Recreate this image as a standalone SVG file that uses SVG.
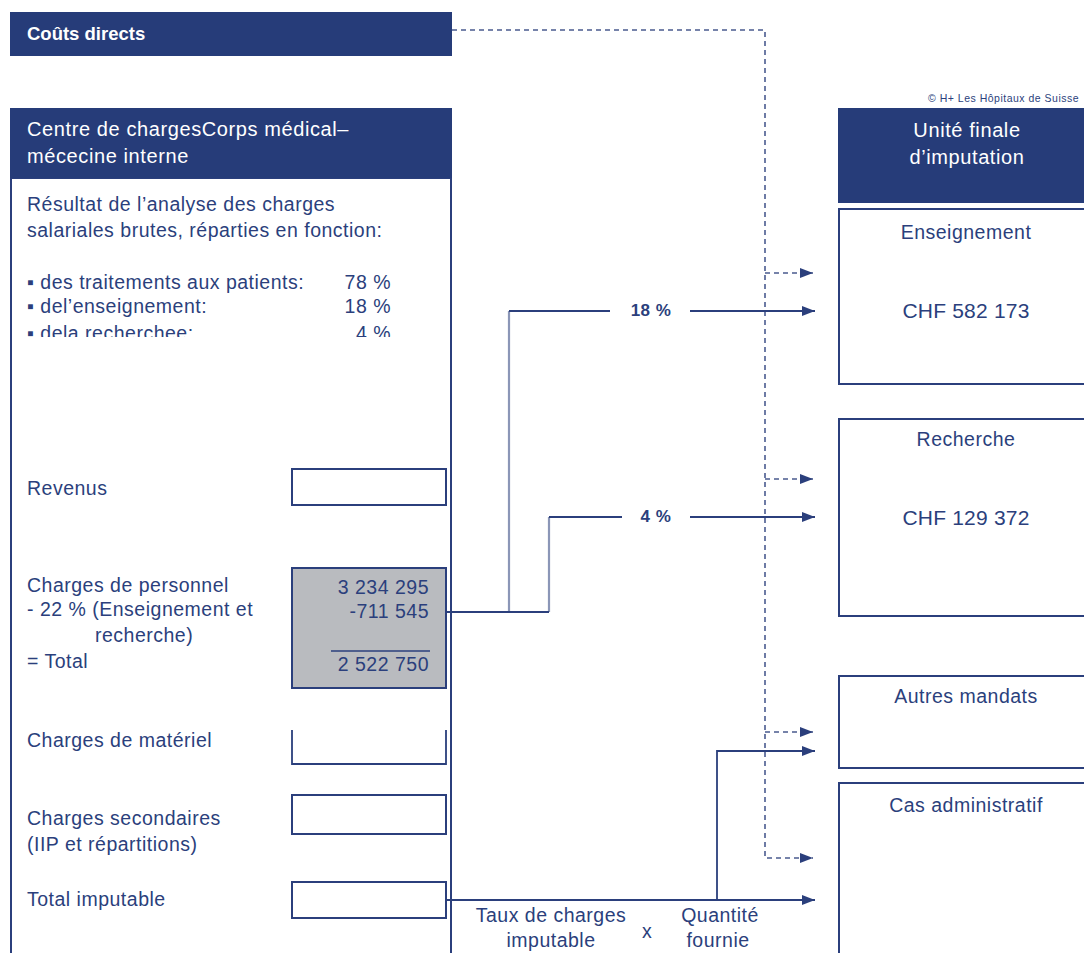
<svg xmlns="http://www.w3.org/2000/svg" width="1084" height="953" viewBox="0 0 1084 953">
<defs>
<style>
.t{font-family:"Liberation Sans",Arial,sans-serif;font-size:19.5px;letter-spacing:0.5px;fill:#2b3f7c}
.w{font-family:"Liberation Sans",Arial,sans-serif;font-size:20px;letter-spacing:0.6px;fill:#ffffff}
.hd{fill:#263c79}
.box{fill:#ffffff;stroke:#2b3f7c;stroke-width:2}
.ln{fill:none;stroke:#2b3f7c;stroke-width:1.8}
.vl{fill:none;stroke:#2b3f7c;stroke-width:2.2;stroke-opacity:0.55}
.ds{fill:none;stroke:#4a5b8f;stroke-width:1.6;stroke-dasharray:5 4}
.r{text-anchor:end}
.m{text-anchor:middle}
</style>
<marker id="ah" markerWidth="13" markerHeight="10" refX="13" refY="5" orient="auto" markerUnits="userSpaceOnUse">
<path d="M0,0 L13,5 L0,10 z" fill="#2b3f7c"/>
</marker>
<clipPath id="clip3"><rect x="0" y="0" width="460" height="337"/></clipPath>
</defs>

<g id="couts-directs">
<rect class="hd" x="10" y="12" width="442" height="44"/>
<text class="w" x="27" y="40" style="font-weight:bold;font-size:18.5px;letter-spacing:0">Coûts directs</text>
</g>

<g id="centre-charges">
<rect class="box" x="11" y="178" width="440" height="790"/>
<rect class="hd" x="10" y="108" width="442" height="70"/>
<text class="w" x="27" y="136">Centre de chargesCorps médical–</text>
<text class="w" x="27" y="163">mécecine interne</text>
<text class="t" x="27" y="211">Résultat de l’analyse des charges</text>
<text class="t" x="27" y="237">salariales brutes, réparties en fonction:</text>
<text class="t" x="27" y="289">▪ des traitements aux patients:</text>
<text class="t r" x="391" y="289">78 %</text>
<text class="t" x="27" y="313">▪ del’enseignement:</text>
<text class="t r" x="391" y="313">18 %</text>
<g clip-path="url(#clip3)">
<text class="t" x="27" y="340">▪ dela recherchee:</text>
<text class="t r" x="391" y="340">4 %</text>
</g>
</g>

<g id="revenus">
<text class="t" x="27" y="495">Revenus</text>
<rect class="box" x="292" y="469" width="154" height="36"/>
</g>

<g id="charges-personnel">
<text class="t" x="27" y="592">Charges de personnel</text>
<text class="t" x="27" y="616">- 22 % (Enseignement et</text>
<text class="t" x="95" y="642">recherche)</text>
<text class="t" x="27" y="668">= Total</text>
<rect x="292" y="568" width="154" height="120" fill="#b9bbbf" stroke="#2b3f7c" stroke-width="2"/>
<text class="t r" x="429" y="594">3 234 295</text>
<text class="t r" x="429" y="618">-711 545</text>
<line x1="331" y1="651" x2="430" y2="651" stroke="#2b3f7c" stroke-width="1.5"/>
<text class="t r" x="429" y="671">2 522 750</text>
</g>

<g id="charges-materiel">
<text class="t" x="27" y="747">Charges de matériel</text>
<path class="ln" d="M292,730 V764 H446 V730"/>
</g>

<g id="charges-secondaires">
<text class="t" x="27" y="825">Charges secondaires</text>
<text class="t" x="27" y="851">(IIP et répartitions)</text>
<rect class="box" x="292" y="795" width="154" height="39"/>
</g>

<g id="total-imputable">
<text class="t" x="27" y="906">Total imputable</text>
<rect class="box" x="292" y="882" width="154" height="36"/>
</g>

<g id="unite-finale">
<text x="928" y="102" style="font-family:'Liberation Sans',Arial,sans-serif;font-size:10.5px;letter-spacing:0.5px;fill:#2b3f7c">© H+ Les Hôpitaux de Suisse</text>
<rect class="hd" x="838" y="108" width="250" height="95"/>
<text class="w m" x="967" y="137">Unité finale</text>
<text class="w m" x="967" y="164">d’imputation</text>
</g>

<g id="enseignement">
<rect class="box" x="839" y="209" width="250" height="175"/>
<text class="t m" x="966" y="239">Enseignement</text>
<text class="t m" x="966" y="318" style="font-size:21px;letter-spacing:0.2px">CHF 582 173</text>
</g>

<g id="recherche">
<rect class="box" x="839" y="419" width="250" height="197"/>
<text class="t m" x="966" y="446">Recherche</text>
<text class="t m" x="966" y="525" style="font-size:21px;letter-spacing:0.2px">CHF 129 372</text>
</g>

<g id="autres-mandats">
<rect class="box" x="839" y="676" width="250" height="92"/>
<text class="t m" x="966" y="703">Autres mandats</text>
</g>

<g id="cas-administratif">
<rect class="box" x="839" y="783" width="250" height="200"/>
<text class="t m" x="966" y="812">Cas administratif</text>
</g>

<g id="connectors">
<path class="ds" d="M452,30 H765 V858 H813" marker-end="url(#ah)"/>
<path class="ds" d="M765,273 H813" marker-end="url(#ah)"/>
<path class="ds" d="M765,479 H813" marker-end="url(#ah)"/>
<path class="ds" d="M765,732 H813" marker-end="url(#ah)"/>

<path class="ln" d="M446,612 H549"/>
<path class="vl" d="M509,612 V311"/>
<path class="vl" d="M549,612 V517"/>
<path class="ln" d="M509,311 H610"/>
<path class="ln" d="M690,311 H815" marker-end="url(#ah)"/>
<text class="t m" x="651" y="316" style="font-weight:bold;font-size:17px">18 %</text>
<path class="ln" d="M549,517 H622"/>
<path class="ln" d="M690,517 H815" marker-end="url(#ah)"/>
<text class="t m" x="656" y="522" style="font-weight:bold;font-size:17px">4 %</text>

<path class="ln" d="M446,900 H815" marker-end="url(#ah)"/>
<path class="ln" d="M717,900 V751 H815" marker-end="url(#ah)"/>
<text class="t m" x="551" y="922">Taux de charges</text>
<text class="t m" x="551" y="947">imputable</text>
<text class="t m" x="647" y="938">x</text>
<text class="t m" x="720" y="922">Quantité</text>
<text class="t m" x="718" y="947">fournie</text>
</g>
</svg>
